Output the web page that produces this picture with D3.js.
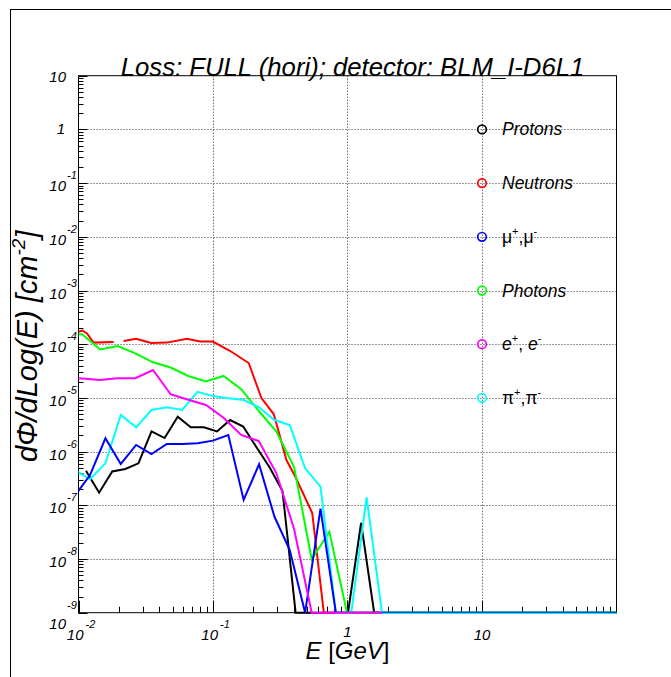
<!DOCTYPE html>
<html>
<head>
<meta charset="utf-8">
<script src="https://cdn.jsdelivr.net/npm/d3@7"></script>
<style>
  html, body { margin: 0; padding: 0; background: #fff; }
  svg { display: block; }
  text { font-family: "Liberation Sans", Arial, Helvetica, sans-serif; }
</style>
</head>
<body>
<svg id="chart" width="671" height="677"></svg>
<script>
// ---- Spectra per particle type: energy [GeV] and dPhi/dLog(E) [cm^-2] ----
// A value of 0 means an empty bin; it is drawn on the lower edge of the frame.
// null marks a missing point (the curve is interrupted there).
const protonE = [0.01137, 0.01423, 0.01781, 0.02229, 0.02790, 0.03490, 0.04368, 0.05466, 0.06839, 0.08558,
  0.1071, 0.1340, 0.1677, 0.2099, 0.2627, 0.3287, 0.4113, 1.0086, 1.262, 1.579, 100];
const protonFlux = [4.41e-7, 1.72e-7, 4.26e-7, 4.74e-7, 6.05e-7, 2.39e-6, 1.79e-6, 4.47e-6, 2.83e-6, 2.83e-6,
  2.37e-6, 3.87e-6, 2.93e-6, 1.22e-6, 5.16e-7, 1.85e-7, 0, 0, 4.68e-8, 0, 0];

const neutronE = [0.00884, 0.01071, 0.01157, 0.01294, 0.01823, 0.0200, 0.02164, 0.02683, 0.03469, 0.04542,
  0.06403, 0.08040, 0.09966, 0.1345, 0.1842, 0.2291, 0.2828, 0.3517, 0.4105, 0.5466, 0.6669, 100];
const neutronFlux = [1.55e-4, 1.80e-4, 1.58e-4, 1.07e-4, 1.10e-4, null, 1.15e-4, 1.26e-4, 1.05e-4, 1.07e-4,
  1.26e-4, 1.12e-4, 1.12e-4, 7.46e-5, 4.46e-5, 9.95e-6, 5.01e-6, 6.97e-7, 3.37e-7, 7.19e-8, 0, 0];

const muonE = [0.009364, 0.01218, 0.01585, 0.02062, 0.02682, 0.03488, 0.04538, 0.05903, 0.07679, 0.09990,
  0.1300, 0.1690, 0.2200, 0.2861, 0.3721, 0.4841, 0.6297, 0.8191, 100];
const muonFlux = [1.49e-7, 3.66e-7, 1.77e-6, 5.88e-7, 1.33e-6, 9.02e-7, 1.39e-6, 1.39e-6, 1.43e-6, 1.60e-6,
  2.04e-6, 1.26e-7, 5.80e-7, 6.18e-8, 1.47e-8, 0, 8.71e-8, 0, 0];

const photonE = [0.007903, 0.01069, 0.01446, 0.01956, 0.02646, 0.03579, 0.04840, 0.06546, 0.08855, 0.1198,
  0.1620, 0.2191, 0.2962, 0.4007, 0.5420, 0.7330, 0.9914, 100];
const photonFlux = [1.62e-4, 1.52e-4, 7.97e-5, 9.25e-5, 6.76e-5, 4.60e-5, 3.68e-5, 2.56e-5, 2.02e-5, 2.56e-5,
  1.45e-5, 5.70e-6, 2.37e-6, 5.16e-7, 9.87e-9, 3.22e-8, 0, 0];

const electronE = [0.007903, 0.01069, 0.01446, 0.01956, 0.02646, 0.03579, 0.04840, 0.06546, 0.08855, 0.1198,
  0.1620, 0.2191, 0.2962, 0.4007, 0.5420, 1.81];
const electronFlux = [2.40e-5, 2.30e-5, 2.15e-5, 2.32e-5, 2.32e-5, 3.31e-5, 1.17e-5, 9.25e-6, 7.37e-6, 4.26e-6,
  2.04e-6, 1.57e-6, 3.94e-7, 3.62e-8, 0, 0];

const pionE = [0.009364, 0.01218, 0.01585, 0.02062, 0.02682, 0.03488, 0.04538, 0.05903, 0.07679, 0.09990,
  0.1300, 0.1690, 0.2200, 0.2861, 0.3721, 0.4841, 0.6297, 0.8191, 1.066, 1.387, 1.804, 100];
const pionFlux = [4.54e-7, 3.05e-7, 6.05e-7, 4.81e-6, 2.83e-6, 5.95e-6, 6.68e-6, 5.95e-6, 1.30e-5, 1.08e-5,
  9.84e-6, 9.14e-6, 6.68e-6, 3.87e-6, 3.12e-6, 4.89e-7, 2.22e-7, 0, 0, 1.41e-7, 0, 0];

// ---- Series definitions (legend order) ----
const seriesNames = ["Protons", "Neutrons", "mu", "Photons", "e", "pi"];
const seriesColors = ["#000000", "#ff0000", "#0000ff", "#00ff00", "#ff00ff", "#00ffff"];
const seriesE = [protonE, neutronE, muonE, photonE, electronE, pionE];
const seriesFlux = [protonFlux, neutronFlux, muonFlux, photonFlux, electronFlux, pionFlux];

// ---- Axes ----
const xDomain = [0.01, 100];
const yDomain = [1e-9, 10];
const xMajorTicks = [0.01, 0.1, 1, 10];
const yMajorExponents = [1, 0, -1, -2, -3, -4, -5, -6, -7, -8, -9];
const titleText = "Loss: FULL (hori); detector: BLM_I-D6L1";

const W = 671, H = 677;
const frame = { left: 78.5, right: 616.5, top: 75.7, bottom: 612.7 };

const svg = d3.select("#chart");
const x = d3.scaleLog().domain(xDomain).range([frame.left, frame.right]);
const y = d3.scaleLog().domain(yDomain).range([frame.bottom, frame.top]);

// Pad outline
svg.append("rect")
  .attr("x", 10.5).attr("y", 9.5)
  .attr("width", W + 20).attr("height", H + 20)
  .attr("fill", "none").attr("stroke", "#000").attr("stroke-width", 1);

// Grid (dotted, at decades)
const grid = svg.append("g").attr("stroke", "#333").attr("stroke-width", 1)
  .attr("stroke-dasharray", "1,2");
xMajorTicks.slice(1).forEach(v => {
  grid.append("line").attr("x1", Math.round(x(v)) + 0.5).attr("x2", Math.round(x(v)) + 0.5)
    .attr("y1", frame.top).attr("y2", frame.bottom);
});
yMajorExponents.slice(1, -1).forEach(e => {
  const yy = Math.round(y(Math.pow(10, e))) + 0.5;
  grid.append("line").attr("x1", frame.left).attr("x2", frame.right)
    .attr("y1", yy).attr("y2", yy);
});

// Frame
svg.append("rect")
  .attr("x", frame.left).attr("y", frame.top)
  .attr("width", frame.right - frame.left).attr("height", frame.bottom - frame.top)
  .attr("fill", "none").attr("stroke", "#000").attr("stroke-width", 1);

// Y axis ticks (inside the frame)
const yTicks = svg.append("g").attr("stroke", "#000").attr("stroke-width", 1);
for (let e = -9; e <= 1; e++) {
  for (let m = 1; m <= 9; m++) {
    const v = m * Math.pow(10, e);
    if (v < yDomain[0] || v > yDomain[1]) continue;
    const yy = Math.round(y(v)) + 0.5;
    const len = m === 1 ? 9 : 5;
    yTicks.append("line").attr("x1", frame.left).attr("x2", frame.left + len)
      .attr("y1", yy).attr("y2", yy);
  }
}
// X axis ticks (inside the frame, bottom)
const xTicks = svg.append("g").attr("stroke", "#000").attr("stroke-width", 1);
for (let e = -2; e <= 1; e++) {
  for (let m = 1; m <= 9; m++) {
    const v = m * Math.pow(10, e);
    if (v < xDomain[0] || v > xDomain[1]) continue;
    const xx = Math.round(x(v)) + 0.5;
    const len = m === 1 ? 12 : 6;
    xTicks.append("line").attr("x1", xx).attr("x2", xx)
      .attr("y1", frame.bottom).attr("y2", frame.bottom - len);
  }
}

// Clip regions for the curves: the full one lets empty bins sit on the
// lower frame edge, the tight one stops exactly at the frame.
const defs = svg.append("defs");
defs.append("clipPath").attr("id", "frameClip").append("rect")
  .attr("x", frame.left).attr("y", frame.top)
  .attr("width", frame.right - frame.left).attr("height", frame.bottom - frame.top + 1.5);
defs.append("clipPath").attr("id", "frameClipTight").append("rect")
  .attr("x", frame.left).attr("y", frame.top)
  .attr("width", frame.right - frame.left).attr("height", frame.bottom - frame.top);

const floor = yDomain[0];
const line = d3.line()
  .defined(d => d[1] !== null)
  .x(d => x(d[0]))
  .y(d => y(Math.max(d[1], floor)));

const curves = svg.append("g");
const drawOrder = [0, 1, 3, 5, 2, 4];
drawOrder.forEach(i => {
  const pts = seriesE[i].map((e, j) => [e, seriesFlux[i][j]]);
  curves.append("path")
    .attr("clip-path", i === 2 ? "url(#frameClipTight)" : "url(#frameClip)")
    .attr("d", line(pts))
    .attr("fill", "none")
    .attr("stroke", seriesColors[i])
    .attr("stroke-width", 2)
    .attr("stroke-linejoin", "miter");
});

// Y tick labels: 10, 1, 10^-1 ... 10^-9
const yLab = svg.append("g").attr("font-style", "italic").attr("fill", "#000");
yMajorExponents.forEach(e => {
  const yy = y(Math.pow(10, e));
  if (e === 1) {
    yLab.append("text").attr("x", 66).attr("y", yy + 6).attr("text-anchor", "end")
      .attr("font-size", 15).text("10");
  } else if (e === 0) {
    yLab.append("text").attr("x", 65).attr("y", yy + 5).attr("text-anchor", "end")
      .attr("font-size", 15).text("1");
  } else {
    const dy = e === -9 ? 16 : 8;
    const edy = e === -9 ? -20 : -12;
    yLab.append("text").attr("x", 66).attr("y", yy + dy).attr("text-anchor", "end")
      .attr("font-size", 15).text("10");
    yLab.append("text").attr("x", 67).attr("y", yy + dy + edy).attr("text-anchor", "start")
      .attr("font-size", 11).text(String(e));
  }
});

// X tick labels
const xLab = svg.append("g").attr("font-style", "italic").attr("fill", "#000");
xMajorTicks.forEach(v => {
  const xx = x(v);
  const e = Math.round(Math.log10(v));
  if (e === 0) {
    xLab.append("text").attr("x", xx).attr("y", 637).attr("text-anchor", "middle")
      .attr("font-size", 15).text("1");
  } else if (e === 1) {
    xLab.append("text").attr("x", xx).attr("y", 640).attr("text-anchor", "middle")
      .attr("font-size", 15).text("10");
  } else {
    xLab.append("text").attr("x", xx + 5).attr("y", 640).attr("text-anchor", "end")
      .attr("font-size", 15).text("10");
    xLab.append("text").attr("x", xx + 7).attr("y", 628).attr("text-anchor", "start")
      .attr("font-size", 11).text(String(e));
  }
});

// Axis titles
const xt = svg.append("text").attr("x", (frame.left + frame.right) / 2).attr("y", 659)
  .attr("text-anchor", "middle").attr("font-size", 24);
xt.append("tspan").attr("font-style", "italic").text("E");
xt.append("tspan").text(" [");
xt.append("tspan").attr("font-style", "italic").text("GeV");
xt.append("tspan").text("]");

const yt = svg.append("text")
  .attr("transform", `translate(37,${(frame.top + frame.bottom) / 2 + 2}) rotate(-90)`)
  .attr("text-anchor", "middle").attr("font-size", 29).attr("font-style", "italic");
yt.append("tspan").text("dΦ/dLog(E) [cm");
yt.append("tspan").attr("font-size", 19).attr("dy", -12).text("-2");
yt.append("tspan").attr("dy", 12).text("]");

// Title
svg.append("text").attr("x", 352.5).attr("y", 76).attr("text-anchor", "middle")
  .attr("font-size", 25.7).attr("font-style", "italic").text(titleText);

// Legend: one open circle and label per series, on the decade grid at E = 10
const legend = svg.append("g");
seriesNames.forEach((name, i) => {
  const cx = x(10), cy = y(Math.pow(10, -i));
  legend.append("circle").attr("cx", cx).attr("cy", cy).attr("r", 4.3)
    .attr("fill", "none").attr("stroke", seriesColors[i]).attr("stroke-width", 1.7);
  const t = legend.append("text").attr("x", cx + 20).attr("y", cy + 6).attr("font-size", 17.5);
  if (name === "mu") {
    t.append("tspan").text("μ");
    t.append("tspan").attr("font-size", 11).attr("dy", -8).text("+");
    t.append("tspan").attr("dy", 8).text(",μ");
    t.append("tspan").attr("font-size", 11).attr("dy", -8).text("-");
  } else if (name === "pi") {
    t.append("tspan").text("π");
    t.append("tspan").attr("font-size", 11).attr("dy", -8).text("+");
    t.append("tspan").attr("dy", 8).text(",π");
    t.append("tspan").attr("font-size", 11).attr("dy", -8).text("-");
  } else if (name === "e") {
    t.append("tspan").attr("font-style", "italic").text("e");
    t.append("tspan").attr("font-size", 11).attr("dy", -8).text("+");
    t.append("tspan").attr("dy", 8).text(", ");
    t.append("tspan").attr("font-style", "italic").text("e");
    t.append("tspan").attr("font-size", 11).attr("dy", -8).text("-");
  } else {
    t.attr("font-style", "italic").text(name);
  }
});
</script>
</body>
</html>
